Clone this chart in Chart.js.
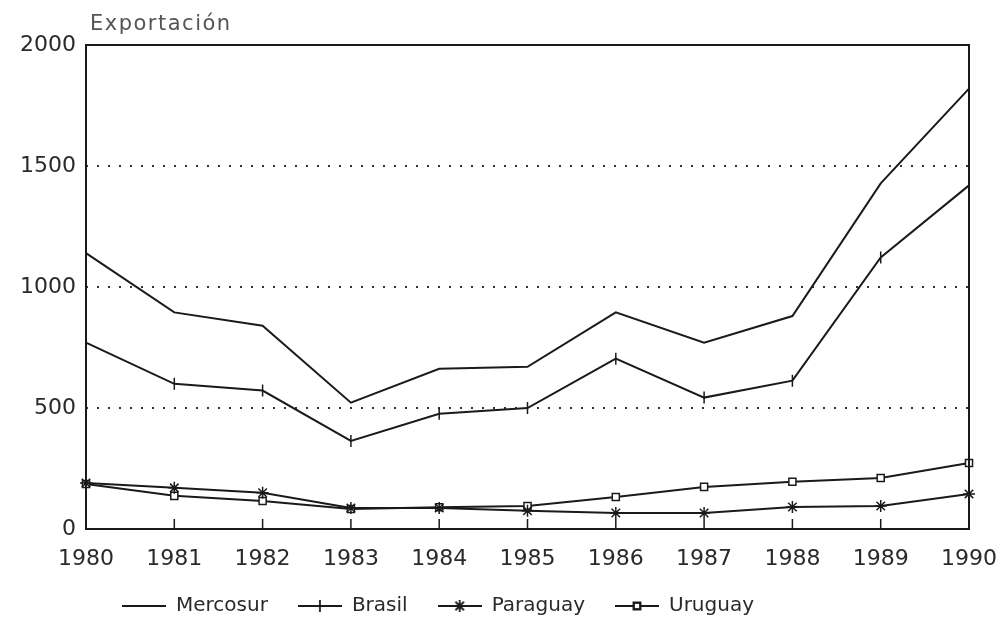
<!DOCTYPE html>
<html>
<head>
<meta charset="utf-8">
<script src="https://cdn.jsdelivr.net/npm/chart.js@4/dist/chart.umd.min.js"></script>
<style>
  body { margin: 0; background: #fff; }
  #wrap { width: 1006px; height: 638px; }
</style>
</head>
<body>
<div id="wrap"><canvas id="graphCanvas"></canvas></div>
<script>
var years = ['1980', '1981', '1982', '1983', '1984', '1985', '1986', '1987', '1988', '1989', '1990'];
var yTicks = [0, 500, 1000, 1500, 2000];
var seriesNames = ['Mercosur', 'Brasil', 'Paraguay', 'Uruguay'];
var mercosur = [1140, 895, 840, 522, 662, 670, 895, 770, 880, 1428, 1820];
var brasil = [770, 600, 572, 364, 476, 500, 704, 543, 613, 1122, 1420];
var paraguay = [190, 170, 150, 87, 87, 75, 66, 66, 91, 95, 145];
var uruguay = [186, 137, 116, 83, 90, 95, 132, 174, 195, 211, 273];
var axisTitle = 'Exportación';

var ink = '#1a1a1a';
var textInk = '#2a2a2a';

// small canvas used as legend key: line with marker in the middle
function makeKey(style) {
    var c = document.createElement('canvas');
    c.width = 44;
    c.height = 16;
    var ctx = c.getContext('2d');
    ctx.strokeStyle = ink;
    ctx.lineWidth = 1.8;
    ctx.beginPath();
    ctx.moveTo(0, 8);
    ctx.lineTo(44, 8);
    ctx.stroke();
    Chart.helpers.drawPoint(ctx, {
        pointStyle: style.pointStyle,
        rotation: style.rotation || 0,
        radius: style.radius || 0,
        borderWidth: 1.5
    }, 22, 8);
    if (style.pointStyle === 'rect') {
        ctx.fillStyle = '#fff';
        ctx.fillRect(19, 5, 6, 6);
        ctx.strokeRect(19, 5, 6, 6);
    }
    return c;
}

var markers = [
    { pointStyle: 'circle', radius: 0 },
    { pointStyle: 'line', rotation: 90, radius: 6 },
    { pointStyle: 'star', radius: 6 },
    { pointStyle: 'rect', radius: 5 }
];
var allData = [mercosur, brasil, paraguay, uruguay];

var datasets = [];
for (var i in allData) {
    datasets.push({
        label: seriesNames[i],
        data: allData[i],
        borderColor: ink,
        backgroundColor: '#fff',
        borderWidth: 2,
        pointStyle: markers[i].pointStyle,
        rotation: markers[i].rotation || 0,
        pointRadius: markers[i].radius,
        pointBorderWidth: 1.5,
        pointBorderColor: ink,
        pointBackgroundColor: '#fff',
        tension: 0
    });
}

var framePlugin = {
    id: 'frame',
    afterLayout: function (chart) {
        // shift the legend a bit left, like the original
        chart.legend.left -= 47;
        chart.legend.right -= 47;
    },
    afterDatasetsDraw: function (chart) {
        var a = chart.chartArea;
        var ctx = chart.ctx;
        var x = chart.scales.x;
        ctx.save();
        ctx.strokeStyle = ink;
        ctx.lineWidth = 2;
        ctx.strokeRect(a.left, a.top, a.right - a.left, a.bottom - a.top);
        ctx.lineWidth = 1.5;
        for (var t = 1; t < years.length - 1; t++) {
            var px = x.getPixelForTick(t);
            ctx.beginPath();
            ctx.moveTo(px, a.bottom);
            ctx.lineTo(px, a.bottom - 10);
            ctx.stroke();
        }
        ctx.fillStyle = '#555';
        ctx.font = '21px "DejaVu Sans"';
        ctx.letterSpacing = '1.5px';
        ctx.textBaseline = 'bottom';
        ctx.fillText(axisTitle, a.left + 4, a.top - 10);
        ctx.restore();
    }
};

var graphTarget = document.getElementById('graphCanvas');

var lineGraph = new Chart(graphTarget, {
    type: 'line',
    data: {
        labels: years,
        datasets: datasets
    },
    plugins: [framePlugin],
    options: {
        responsive: true,
        maintainAspectRatio: false,
        animation: false,
        layout: { padding: { top: 45, right: 36, left: 0, bottom: 12 } },
        plugins: {
            title: { display: false },
            tooltip: { enabled: false },
            legend: {
                position: 'bottom',
                labels: {
                    usePointStyle: true,
                    pointStyleWidth: 44,
                    padding: 30,
                    color: textInk,
                    font: { family: 'DejaVu Sans', size: 20 },
                    generateLabels: function (chart) {
                        var items = Chart.defaults.plugins.legend.labels.generateLabels(chart);
                        items.forEach(function (it, k) {
                            it.pointStyle = makeKey(markers[k]);
                            it.rotation = 0;
                        });
                        return items;
                    }
                }
            }
        },
        scales: {
            x: {
                offset: false,
                grid: { display: false },
                border: { display: false },
                ticks: {
                    color: textInk,
                    padding: 9,
                    maxRotation: 0,
                    autoSkip: false,
                    font: { family: 'DejaVu Sans', size: 22 }
                },
                afterFit: function (scale) { scale.height = 37; }
            },
            y: {
                min: 0,
                max: 2000,
                afterBuildTicks: function (scale) {
                    scale.ticks = yTicks.map(function (v) { return { value: v }; });
                },
                grid: {
                    color: '#333',
                    lineWidth: 2,
                    drawTicks: false
                },
                border: { display: false, dash: [2, 9] },
                ticks: {
                    color: textInk,
                    padding: 10,
                    font: { family: 'DejaVu Sans', size: 22 },
                    callback: function (v) { return String(v); }
                },
                afterFit: function (scale) { scale.width = 86; }
            }
        }
    }
});
</script>
</body>
</html>
